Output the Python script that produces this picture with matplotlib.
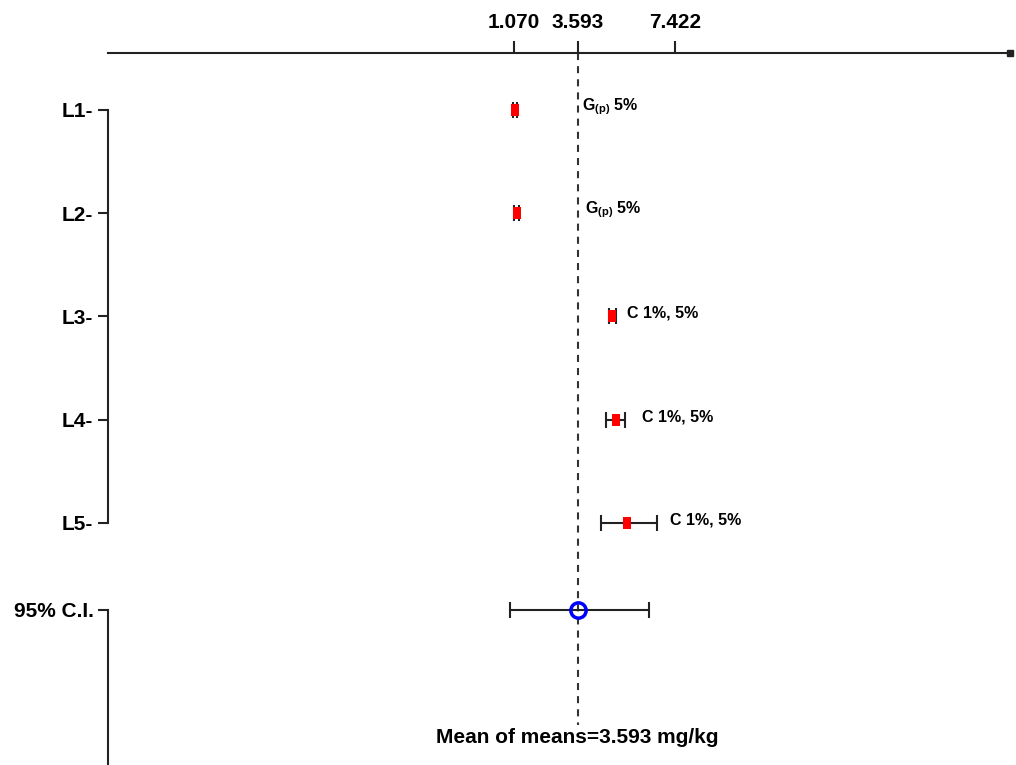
import numpy as np
import matplotlib
matplotlib.use('Agg')
import matplotlib.pyplot as plt

plt.rcParams['mathtext.fontset'] = 'custom'
plt.rcParams['mathtext.rm'] = 'Liberation Sans:bold'
plt.rcParams['mathtext.it'] = 'Liberation Sans:bold'

# # # # # # # # # # # # # # # # # # # # # # # # # # # # # # # # # # # # # # #

labels = ['L1', 'L2', 'L3', 'L4', 'L5']
means = np.array([1.11, 1.20, 4.96, 5.12, 5.53])      # mg/kg
ci_low = np.array([1.03, 1.10, 4.84, 4.72, 4.50])
ci_high = np.array([1.19, 1.30, 5.09, 5.46, 6.70])
sig = [r'$\mathrm{G_{(p)}}$ 5%', r'$\mathrm{G_{(p)}}$ 5%',
       'C 1%, 5%', 'C 1%, 5%', 'C 1%, 5%']
sig_x = [3.76, 3.88, 5.53, 6.12, 7.23]

grand_mean = 3.593
grand_ci = (0.93, 6.39)
top_ticks = [1.070, 3.593, 7.422]

font = ['Liberation Sans', 'DejaVu Sans']

# # # # # # # # # # # # # # # # # # # # # # # # # # # # # # # # # # # # # # #

fig = plt.figure(figsize=(10.16, 7.65), dpi=100)
ax = fig.add_axes([108 / 1016, 0, 902 / 1016, 1 - 53 / 765])
ax.set_xlim(-14.89, 20.61)
ax.set_ylim(7.344, 0.448)

ypos = np.arange(1, len(labels) + 1)
ci_row = 5.84

for s in ['right', 'bottom']:
    ax.spines[s].set_visible(False)
ax.spines['top'].set_linewidth(1.5)
ax.spines['top'].set_color('#222222')
ax.spines['left'].set_linewidth(1.5)
ax.spines['left'].set_color('#222222')
ax.spines['left'].set_bounds(1, len(labels))
ax.plot([0, 0], [ci_row, 7.344], color='#222222', lw=1.5,
        transform=ax.get_yaxis_transform(), clip_on=False)
ax.plot([1], [1], marker='s', ms=4, color='#222222',
        transform=ax.transAxes, clip_on=False)

ax.xaxis.tick_top()
ax.set_xticks(top_ticks, labels=['%.3f' % v for v in top_ticks])
ax.tick_params(axis='x', length=9, width=1.5, pad=6, color='#222222')
ax.set_yticks(list(ypos) + [ci_row], labels=[l + '-' for l in labels] + ['95% C.I.'])
ax.tick_params(axis='y', length=7.5, width=1.5, pad=3, color='#222222')
for t in ax.get_xticklabels() + ax.get_yticklabels():
    t.set_fontfamily(font)
    t.set_fontweight('bold')
    t.set_fontsize(15)

# mean of means reference
ax.plot([grand_mean, grand_mean], [0.448, 6.956], color='#333333', lw=1.5,
        ls=(0, (3.4, 2.9)))

ax.errorbar(means, ypos, xerr=[means - ci_low, ci_high - means], fmt='none',
            ecolor='#222222', elinewidth=1.5, capsize=6, capthick=1.5)
rect = [(-2, -3), (2, -3), (2, 3), (-2, 3), (-2, -3)]
ax.plot(means, ypos, ls='none', marker=rect, ms=8.6, color='#ff0000', mew=0)

ax.errorbar([grand_mean], [ci_row],
            xerr=[[grand_mean - grand_ci[0]], [grand_ci[1] - grand_mean]],
            fmt='none', ecolor='#222222', elinewidth=1.5, capsize=6, capthick=1.5)
ax.plot([grand_mean], [ci_row], marker='o', ms=11, mfc='none', mec='#0000ff', mew=2.5)

for x, y, s in zip(sig_x, ypos, sig):
    ax.text(x, y - 0.03, s, fontsize=11.5, fontweight='bold',
            family=font, va='center', ha='left')

ax.text(grand_mean, 7.08, 'Mean of means=%.3f mg/kg' % grand_mean,
        ha='center', va='center', fontsize=15, fontweight='bold', family=font)

fig.savefig('out.png', dpi=100)
